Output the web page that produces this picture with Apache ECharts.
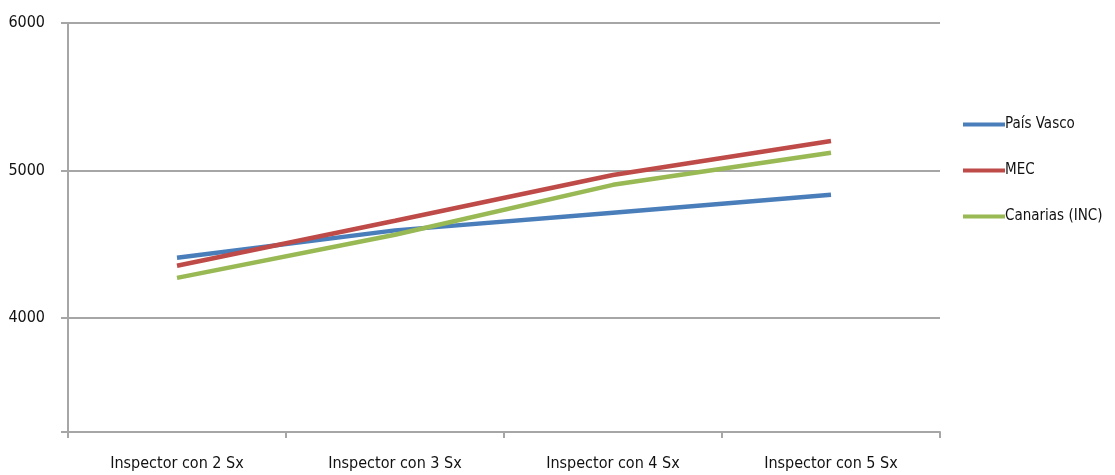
<!DOCTYPE html>
<html><head><meta charset="utf-8">
<script src="https://cdn.jsdelivr.net/npm/echarts@6/dist/echarts.min.js"></script>
<style>html,body{margin:0;padding:0;background:#fff}#c{width:1115px;height:475px}</style>
</head><body><div id="c"></div>
<script>
const categories = ['Inspector con 2 Sx', 'Inspector con 3 Sx', 'Inspector con 4 Sx', 'Inspector con 5 Sx'];
const paisVasco = [4407, 4593, 4713, 4834];
const mec = [4353, 4658, 4969, 5200];
const canarias = [4271, 4563, 4902, 5119];
const yLabels = [4000, 5000, 6000];
const yTicks = [3225, 4000, 5000, 6000];
const seriesNames = ['País Vasco', 'MEC', 'Canarias (INC)'];

const font = '"DejaVu Sans Condensed", "Liberation Sans Narrow", "Open Sans", sans-serif';
const chart = echarts.init(document.getElementById('c'));
const axisCol = '#a6a6a6';
chart.setOption({
  animation: false,
  color: ['#4a7ebb', '#be4b48', '#98b954'],
  grid: { left: 68, right: 175, top: 23, bottom: 43 },
  legend: {
    orient: 'vertical', left: 958, top: 112, itemGap: 31,
    itemWidth: 42, itemHeight: 4,
    icon: 'rect',
    textStyle: { fontFamily: font, fontSize: 15, color: '#111', padding: [0, 0, 0, -5] },
    data: seriesNames
  },
  xAxis: {
    type: 'category', data: categories, boundaryGap: true,
    axisLine: { lineStyle: { color: axisCol, width: 2 } },
    axisTick: { show: true, length: 6, lineStyle: { color: axisCol, width: 2 } },
    axisLabel: { fontFamily: font, fontSize: 16, color: '#111', margin: 24 }
  },
  yAxis: {
    type: 'value', min: 3225, max: 6000,
    axisLine: { show: true, lineStyle: { color: axisCol, width: 2 } },
    axisTick: { show: true, length: 7, customValues: yTicks, lineStyle: { color: axisCol, width: 2 } },
    axisLabel: { customValues: yLabels, formatter: v => String(v), fontFamily: font, fontSize: 16, color: '#111', margin: 23 },
    splitLine: { show: true, lineStyle: { color: axisCol, width: 2 } }
  },
  series: [
    { name: seriesNames[0], type: 'line', data: paisVasco, symbol: 'none', lineStyle: { width: 4.5 } },
    { name: seriesNames[1], type: 'line', data: mec, symbol: 'none', lineStyle: { width: 4.5 } },
    { name: seriesNames[2], type: 'line', data: canarias, symbol: 'none', lineStyle: { width: 4.5 } }
  ]
});
</script></body></html>
